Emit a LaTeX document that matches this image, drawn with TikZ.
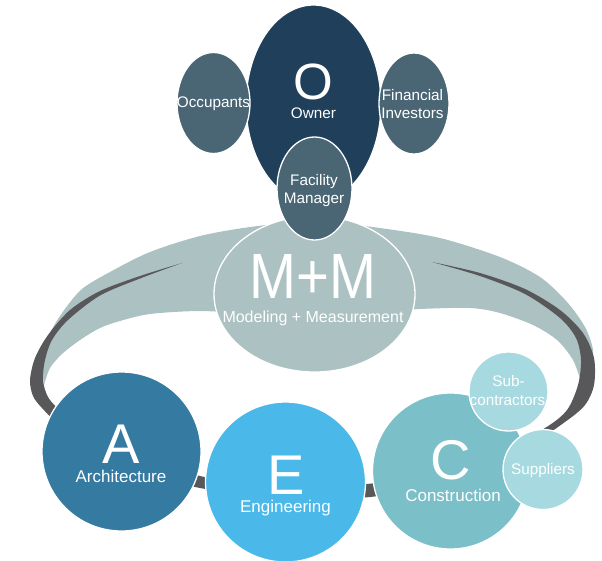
\documentclass[tikz,border=0pt]{standalone}
\usepackage{fontspec}
\setmainfont{Liberation Sans}
\usetikzlibrary{shapes.geometric}
\definecolor{ownernavy}{HTML}{1F3F5B}
\definecolor{slate}{HTML}{4A6675}
\definecolor{mmgrey}{HTML}{ACC1C2}
\definecolor{ringdark}{HTML}{58585A}
\definecolor{archblue}{HTML}{357AA0}
\definecolor{engblue}{HTML}{4AB9E9}
\definecolor{consteal}{HTML}{7BBFC8}
\definecolor{paleteal}{HTML}{A6DAE0}
\tikzset{
  blob/.style={ellipse, draw=white, line width=1.3pt, inner sep=0pt},
  disc/.style={circle, draw=white, line width=1.3pt, inner sep=0pt},
  bigletter/.style={text=white, anchor=base, inner sep=0pt, text depth=0pt, font=\fontsize{56}{56}\selectfont},
  biglbl/.style={text=white, anchor=base, inner sep=0pt, text height=12.5pt, font=\fontsize{17}{20}\selectfont},
  smalllbl/.style={text=white, anchor=base, inner sep=0pt, text height=11.2pt, font=\fontsize{15.3}{18.5}\selectfont},
}
\begin{document}
\begin{tikzpicture}[x=1pt, y=-1pt, line join=round]
\useasboundingbox (0,0) rectangle (602,560);
% band round the team
\fill[mmgrey] plot[smooth] coordinates {(44,385) (42,360) (48,337) (62,313) (82,289) (110,272) (150,252) (200,236) (250,227) (300,222) (335,223) (380,228) (440,238) (500,257) (540,277) (567,302) (585,327) (593,350) (590,370) (581,382)}
  -- plot[smooth] coordinates {(581,382) (573,360) (557,340) (533,325) (500,313) (470,308) (420,309) (380,312) (320,318) (300,318) (250,314) (200,311) (150,314) (120,321) (100,328) (80,340) (62,354) (50,368) (44,385)} -- cycle;
\fill[ringdark] plot[smooth] coordinates {(182,263) (140,276) (100,291) (70,310) (48,335) (35,358) (30,380) (33,396) (42,408) (60,425) (100,450) (150,472) (200,488) (285,498) (370,497) (455,480) (525,448) (565,422) (585,405) (594,385) (594,358) (583,333) (560,310) (525,289) (480,273) (432,262)}
  -- plot[smooth] coordinates {(432,262) (480,276) (525,294) (560,318) (576,338) (581,360) (578,385) (567,410) (545,428) (490,458) (420,477) (340,486) (270,484) (200,476) (130,450) (85,425) (60,410) (48,397) (43,380) (45,360) (52,340) (68,320) (100,295.5) (140,278.5) (182,263)} -- cycle;
% M+M
\node[blob, fill=mmgrey, minimum width=201pt, minimum height=156pt] (mm) at (314.5,294) {};
\node[text=white, anchor=base, inner sep=0pt, text depth=0pt, font=\fontsize{64}{64}\selectfont] (mmletter) at (313,298) {\scalebox{0.88}[1]{M+M}};
\node[text=white, anchor=base, inner sep=0pt, text height=11.5pt, font=\fontsize{16}{19}\selectfont] (mmlbl) at (313,322) {Modeling + Measurement};
% owner group
\node[blob, fill=ownernavy, minimum width=135pt, minimum height=198pt] (owner) at (313.5,104) {};
\node[bigletter, font=\fontsize{51}{51}\selectfont] (oletter) at (313.5,99) {O};
\node[smalllbl] (ownerlbl) at (313.5,118) {Owner};
\node[blob, fill=slate, minimum width=73pt, minimum height=101pt] (occ) at (213.5,103) {};
\node[smalllbl] (occlbl) at (213.5,107) {Occupants};
\node[blob, fill=slate, minimum width=70pt, minimum height=101pt] (fin) at (414,103.5) {};
\node[smalllbl] (finlbl1) at (412.5,100) {Financial};
\node[smalllbl] (finlbl2) at (412.5,118.5) {Investors};
\node[blob, fill=slate, minimum width=75pt, minimum height=103pt] (fm) at (314.5,188.5) {};
\node[smalllbl] (fmlbl1) at (314,185) {Facility};
\node[smalllbl] (fmlbl2) at (314,203.5) {Manager};
% A E C
\node[disc, fill=archblue, minimum size=159pt] (arch) at (121.5,451.5) {};
\node[bigletter] (aletter) at (121,463) {A};
\node[biglbl] (archlbl) at (121,482) {Architecture};
\node[disc, fill=engblue, minimum size=160pt] (eng) at (285.5,482) {};
\node[bigletter] (eletter) at (286,494) {E};
\node[biglbl] (englbl) at (285.5,512.5) {Engineering};
\node[disc, fill=consteal, minimum size=156pt] (cons) at (450.5,471) {};
\node[bigletter] (cletter) at (451,479) {C};
\node[biglbl] (conslbl) at (453,501.5) {Construction};
\node[disc, fill=paleteal, minimum size=79pt] (sub) at (508.5,391.5) {};
\node[smalllbl] (sublbl1) at (508.5,386.5) {Sub-};
\node[smalllbl] (sublbl2) at (507.5,405) {contractors};
\node[disc, fill=paleteal, minimum size=80pt] (sup) at (543,469.5) {};
\node[smalllbl] (suplbl) at (543,474) {Suppliers};
\end{tikzpicture}
\end{document}
